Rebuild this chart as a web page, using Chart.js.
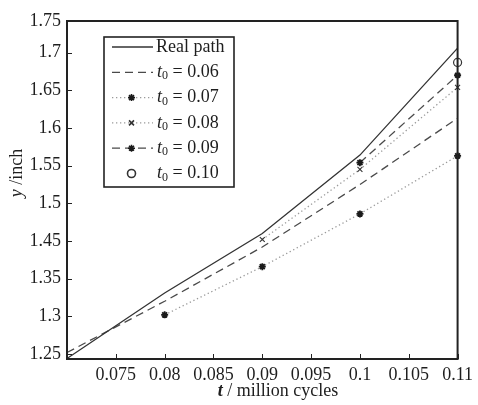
<!DOCTYPE html>
<html>
<head>
<meta charset="utf-8">
<script src="https://cdn.jsdelivr.net/npm/chart.js@4/dist/chart.umd.min.js"></script>
<style>
	html, body { margin: 0; padding: 0; background: #ffffff; }
	#meu_grafico { display: block; }
</style>
</head>
<body>
<canvas id="meu_grafico" width="478" height="405"></canvas>
<script>
//----------------------------------------Dados----------------------------------------
const ciclos = [0.07, 0.08, 0.09, 0.10, 0.11];

const real_path = [1.294, 1.381, 1.460, 1.564, 1.706];
const t0_006 = [1.302, 1.370, 1.442, 1.525, 1.613];
const t0_007 = [null, 1.352, 1.416, 1.486, 1.563];
const t0_008 = [null, null, 1.452, 1.545, 1.654];
const t0_009 = [null, null, null, 1.554, 1.670];
const t0_010 = [null, null, null, null, 1.687];

const x_ticks = [0.075, 0.08, 0.085, 0.09, 0.095, 0.10, 0.105, 0.11];
const x_tick_labels = ["0.075", "0.08", "0.085", "0.09", "0.095", "0.1", "0.105", "0.11"];

const y_ticks = [1.30, 1.35, 1.40, 1.45, 1.50, 1.55, 1.60, 1.65, 1.70, 1.742];
const y_tick_labels = ["1.25", "1.3", "1.35", "1.45", "1.5", "1.55", "1.6", "1.65", "1.7", "1.75"];

const legenda_t0 = ["0.06", "0.07", "0.08", "0.09", "0.10"];

//----------------------------------------Estilos----------------------------------------
const fonte = "'Liberation Serif', 'Times New Roman', serif";
const cor_texto = "#1e1e1e";
const cor_eixo = "#222222";

//----------------------------------------Funções----------------------------------------
//Converte uma lista em pontos {x, y}, ignorando os vazios
function pontos(lista){
	const saida = [];
	lista.forEach((v, i) => {
		if(v !== null){
			saida.push({x: ciclos[i], y: v});
		}
	});
	return saida;
}

//Escreve "t0 = 0.06" com t em itálico e 0 subscrito
function texto_t0(ctx, x, y, valor){
	ctx.textBaseline = "middle";
	ctx.textAlign = "left";
	ctx.font = "italic 18px " + fonte;
	ctx.fillText("t", x, y);
	let px = x + ctx.measureText("t").width;
	ctx.font = "12px " + fonte;
	ctx.fillText("0", px, y + 4);
	px += ctx.measureText("0").width;
	ctx.font = "18px " + fonte;
	ctx.fillText(" = " + valor, px, y);
}

//----------------------------------------Plugins----------------------------------------
//Moldura e marcas dos eixos para dentro
const moldura = {
	id: "moldura",
	afterDatasetsDraw(chart){
		const ctx = chart.ctx;
		const area = chart.chartArea;
		const sx = chart.scales.x;
		const sy = chart.scales.y;

		ctx.save();
		ctx.strokeStyle = cor_eixo;
		ctx.lineWidth = 1;
		ctx.setLineDash([]);

		sx.ticks.forEach(t => {
			const px = Math.round(sx.getPixelForValue(t.value)) + 0.5;
			ctx.beginPath();
			ctx.moveTo(px, area.bottom);
			ctx.lineTo(px, area.bottom - 5);
			ctx.stroke();
		});

		sy.ticks.forEach(t => {
			if(t.value >= sy.max) return;
			const py = Math.round(sy.getPixelForValue(t.value)) + 0.5;
			ctx.beginPath();
			ctx.moveTo(area.left, py);
			ctx.lineTo(area.left + 5, py);
			ctx.stroke();
		});

		ctx.lineWidth = 2;
		ctx.strokeRect(area.left, area.top, area.right - area.left, area.bottom - area.top);
		ctx.restore();
	}
};

//Títulos dos eixos com letras em itálico
const titulos = {
	id: "titulos",
	afterDraw(chart){
		const ctx = chart.ctx;
		ctx.save();
		ctx.fillStyle = cor_texto;
		ctx.textBaseline = "middle";
		ctx.textAlign = "left";

		//Eixo x
		ctx.font = "italic bold 18px " + fonte;
		const w_t = ctx.measureText("t").width;
		ctx.font = "18px " + fonte;
		const resto_x = " / million cycles";
		const w_rx = ctx.measureText(resto_x).width;
		let x0 = 278 - (w_t + w_rx) / 2;
		ctx.font = "italic bold 18px " + fonte;
		ctx.fillText("t", x0, 391);
		ctx.font = "18px " + fonte;
		ctx.fillText(resto_x, x0 + w_t, 391);

		//Eixo y
		ctx.translate(17, 173);
		ctx.rotate(-Math.PI / 2);
		ctx.font = "italic 18px " + fonte;
		const w_y = ctx.measureText("y").width;
		ctx.font = "18px " + fonte;
		const resto_y = " /inch";
		const w_ry = ctx.measureText(resto_y).width;
		const y0 = -(w_y + w_ry) / 2;
		ctx.font = "italic 18px " + fonte;
		ctx.fillText("y", y0, 0);
		ctx.font = "18px " + fonte;
		ctx.fillText(resto_y, y0 + w_y, 0);

		ctx.restore();
	}
};

//Legenda dentro da área do gráfico
const legenda = {
	id: "legenda",
	afterDraw(chart){
		const ctx = chart.ctx;
		const caixa = {x: 104, y: 37, w: 130, h: 150};
		const linha_x0 = 112;
		const linha_x1 = 153;
		const texto_x = 156;
		const passo = 25.3;

		ctx.save();
		ctx.fillStyle = "#ffffff";
		ctx.fillRect(caixa.x, caixa.y, caixa.w, caixa.h);
		ctx.strokeStyle = cor_eixo;
		ctx.lineWidth = 1.6;
		ctx.strokeRect(caixa.x, caixa.y, caixa.w, caixa.h);

		chart.data.datasets.forEach((ds, i) => {
			const cy = caixa.y + 10 + passo * i;

			if(ds.showLine !== false){
				ctx.save();
				ctx.strokeStyle = ds.borderColor;
				ctx.lineWidth = ds.borderWidth;
				ctx.setLineDash(ds.borderDash || []);
				ctx.beginPath();
				ctx.moveTo(linha_x0, cy);
				ctx.lineTo(linha_x1, cy);
				ctx.stroke();
				ctx.restore();
			}

			if(ds.legenda_marcador){
				ctx.save();
				ctx.setLineDash([]);
				ctx.strokeStyle = ds.pointBorderColor;
				ctx.fillStyle = ds.pointBackgroundColor;
				Chart.helpers.drawPoint(ctx, {
					pointStyle: ds.pointStyle,
					radius: ds.pointRadius,
					rotation: 0,
					borderWidth: ds.pointBorderWidth
				}, (linha_x0 + linha_x1) / 2 - 1, cy);
				ctx.restore();
			}

			ctx.fillStyle = cor_texto;
			if(i === 0){
				ctx.font = "18px " + fonte;
				ctx.textBaseline = "middle";
				ctx.textAlign = "left";
				ctx.fillText(ds.label, texto_x, cy);
			} else {
				texto_t0(ctx, texto_x + 1, cy, legenda_t0[i - 1]);
			}
		});
		ctx.restore();
	}
};

//----------------------------------------Estruturas----------------------------------------
const tracejado = [8, 5];
const pontilhado = [1.3, 2.7];

const grafico = new Chart(document.getElementById("meu_grafico"), {
	type: "line",
	data: {
		datasets: [
			{
				label: "Real path",
				data: pontos(real_path),
				borderColor: "#333333",
				borderWidth: 1.3,
				pointRadius: 0
			},
			{
				label: "t0 = 0.06",
				data: pontos(t0_006),
				borderColor: "#4a4a4a",
				borderWidth: 1.3,
				borderDash: tracejado,
				pointRadius: 0
			},
			{
				label: "t0 = 0.07",
				data: pontos(t0_007),
				borderColor: "#9a9a9a",
				borderWidth: 1.3,
				borderDash: pontilhado,
				pointStyle: "star",
				pointRadius: 3.5,
				pointBorderWidth: 1.8,
				pointBorderColor: "#1a1a1a",
				pointBackgroundColor: "#1a1a1a",
				legenda_marcador: true
			},
			{
				label: "t0 = 0.08",
				data: pontos(t0_008),
				borderColor: "#9a9a9a",
				borderWidth: 1.3,
				borderDash: pontilhado,
				pointStyle: "crossRot",
				pointRadius: 3.5,
				pointBorderWidth: 1.1,
				pointBorderColor: "#333333",
				pointBackgroundColor: "#333333",
				legenda_marcador: true
			},
			{
				label: "t0 = 0.09",
				data: pontos(t0_009),
				borderColor: "#4a4a4a",
				borderWidth: 1.3,
				borderDash: tracejado,
				pointStyle: "star",
				pointRadius: 3.5,
				pointBorderWidth: 1.8,
				pointBorderColor: "#1a1a1a",
				pointBackgroundColor: "#1a1a1a",
				legenda_marcador: true
			},
			{
				label: "t0 = 0.10",
				data: pontos(t0_010),
				showLine: false,
				borderColor: "#333333",
				borderWidth: 1.2,
				pointStyle: "circle",
				pointRadius: 4,
				pointBorderWidth: 1.2,
				pointBorderColor: "#333333",
				pointBackgroundColor: "rgba(255,255,255,0)",
				legenda_marcador: true
			}
		]
	},
	options: {
		responsive: false,
		animation: false,
		devicePixelRatio: 1,
		clip: false,
		layout: {
			padding: {top: 21, right: 16, left: 0, bottom: 0}
		},
		plugins: {
			legend: {display: false},
			tooltip: {enabled: false}
		},
		scales: {
			x: {
				type: "linear",
				min: 0.07,
				max: 0.11,
				grid: {display: false, drawTicks: false},
				border: {display: false},
				afterBuildTicks: s => { s.ticks = x_ticks.map(v => ({value: v})); },
				afterFit: s => { s.height = 46; },
				ticks: {
					padding: 5,
					maxRotation: 0,
					autoSkip: false,
					color: cor_texto,
					font: {family: fonte, size: 18},
					callback: (v, i) => x_tick_labels[i]
				}
			},
			y: {
				type: "linear",
				min: 1.2934,
				max: 1.742,
				grid: {display: false, drawTicks: false},
				border: {display: false},
				afterBuildTicks: s => { s.ticks = y_ticks.map(v => ({value: v})); },
				afterFit: s => { s.width = 67; },
				ticks: {
					padding: 6,
					autoSkip: false,
					color: cor_texto,
					font: {family: fonte, size: 18},
					callback: (v, i) => y_tick_labels[i]
				}
			}
		}
	},
	plugins: [moldura, titulos, legenda]
});
</script>
</body>
</html>
